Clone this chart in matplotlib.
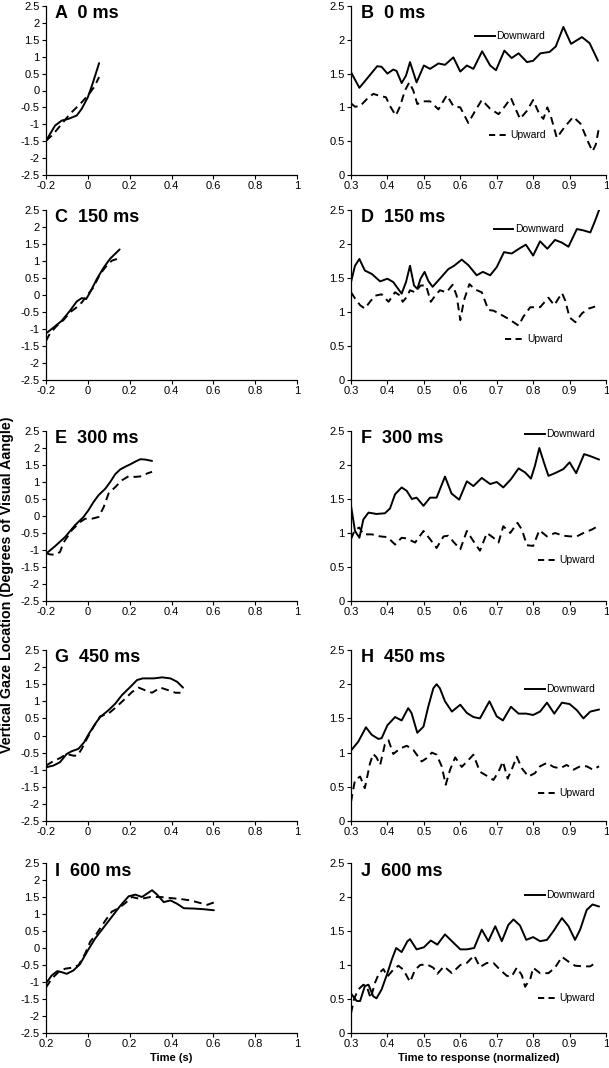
import matplotlib
matplotlib.use("Agg")
import matplotlib.pyplot as plt

plt.rcParams['font.family'] = ['Liberation Sans', 'DejaVu Sans']

# ---------------- data ----------------
# Left panels (time in s)
A_down_x = [-0.2, -0.157, -0.125, -0.093, -0.053, -0.029, 0.0, 0.02, 0.054]
A_down_y = [-1.49, -1.04, -0.89, -0.84, -0.74, -0.54, -0.2, 0.15, 0.81]
A_up_x = [-0.2, -0.165, -0.125, -0.085, -0.037, 0.0, 0.03, 0.054]
A_up_y = [-1.49, -1.29, -0.99, -0.69, -0.40, -0.15, 0.1, 0.40]

C_down_x = [-0.2, -0.165, -0.125, -0.085, -0.053, -0.029, -0.008, 0.011, 0.043, 0.075, 0.107, 0.152]
C_down_y = [-1.13, -0.96, -0.76, -0.46, -0.19, -0.09, -0.12, 0.08, 0.47, 0.80, 1.07, 1.34]
C_up_x = [-0.2, -0.181, -0.149, -0.117, -0.085, -0.053, -0.029, -0.008, 0.027, 0.059, 0.091, 0.115, 0.139]
C_up_y = [-1.35, -1.13, -0.91, -0.74, -0.51, -0.36, -0.22, -0.05, 0.23, 0.62, 0.87, 1.01, 1.06]

E_down_x = [-0.2, -0.157, -0.109, -0.061, -0.021, 0.003, 0.027, 0.051, 0.083, 0.107, 0.131,
            0.155, 0.179, 0.203, 0.227, 0.251, 0.275, 0.307]
E_down_y = [-1.11, -0.89, -0.62, -0.27, -0.03, 0.17, 0.41, 0.61, 0.80, 1.00, 1.23,
            1.37, 1.45, 1.52, 1.60, 1.67, 1.66, 1.62]
E_up_x = [-0.2, -0.181, -0.157, -0.133, -0.117, -0.077, -0.037, -0.013, 0.019, 0.051, 0.075,
          0.099, 0.131, 0.163, 0.195, 0.227, 0.259, 0.283, 0.307]
E_up_y = [-1.09, -1.13, -1.14, -1.06, -0.79, -0.42, -0.18, -0.08, -0.08, -0.03, 0.25,
          0.66, 0.85, 1.05, 1.17, 1.15, 1.17, 1.25, 1.30]

G_down_x = [-0.2, -0.165, -0.133, -0.101, -0.077, -0.045, -0.018, 0.003, 0.035, 0.059, 0.099,
            0.131, 0.163, 0.203, 0.235, 0.262, 0.315, 0.355, 0.395, 0.427, 0.455]
G_down_y = [-0.93, -0.88, -0.78, -0.54, -0.46, -0.39, -0.20, 0.03, 0.34, 0.54, 0.74,
            0.93, 1.18, 1.42, 1.62, 1.67, 1.67, 1.70, 1.67, 1.57, 1.40]
G_up_x = [-0.2, -0.165, -0.133, -0.101, -0.069, -0.05, -0.029, -0.005, 0.027, 0.059, 0.099,
          0.139, 0.179, 0.211, 0.243, 0.275, 0.307, 0.347, 0.387, 0.419, 0.443]
G_up_y = [-0.88, -0.75, -0.66, -0.54, -0.59, -0.59, -0.39, -0.10, 0.25, 0.56, 0.64,
          0.85, 1.08, 1.27, 1.40, 1.32, 1.25, 1.40, 1.32, 1.25, 1.25]

I_down_x = [-0.2, -0.173, -0.146, -0.125, -0.101, -0.069, -0.037, 0.0, 0.035, 0.075, 0.115,
            0.155, 0.195, 0.227, 0.259, 0.283, 0.307, 0.331, 0.363, 0.395, 0.427, 0.459,
            0.507, 0.555, 0.603]
I_down_y = [-1.04, -0.81, -0.68, -0.71, -0.76, -0.66, -0.47, -0.07, 0.28, 0.60, 0.92,
            1.24, 1.52, 1.57, 1.50, 1.60, 1.70, 1.57, 1.35, 1.40, 1.30, 1.17,
            1.16, 1.14, 1.11]
I_up_x = [-0.2, -0.173, -0.141, -0.109, -0.077, -0.045, -0.013, 0.011, 0.043, 0.083, 0.115,
          0.147, 0.179, 0.211, 0.251, 0.299, 0.347, 0.395, 0.443, 0.491, 0.539, 0.571, 0.603]
I_up_y = [-1.16, -0.91, -0.71, -0.61, -0.58, -0.51, -0.17, 0.18, 0.43, 0.80, 1.07,
          1.17, 1.32, 1.50, 1.44, 1.50, 1.50, 1.47, 1.44, 1.40, 1.32, 1.27, 1.34]

# Right panels (normalized time to response)
B_down_x = [0.3, 0.323, 0.343, 0.372, 0.384, 0.40, 0.416, 0.425, 0.439, 0.451, 0.462, 0.471,
            0.48, 0.50, 0.517, 0.54, 0.558, 0.581, 0.60, 0.618, 0.636, 0.66, 0.682, 0.698,
            0.721, 0.741, 0.76, 0.783, 0.80, 0.82, 0.845, 0.862, 0.883, 0.904, 0.934, 0.955, 0.978]
B_down_y = [1.52, 1.29, 1.42, 1.61, 1.60, 1.50, 1.56, 1.54, 1.36, 1.47, 1.67, 1.52,
            1.37, 1.62, 1.57, 1.65, 1.63, 1.74, 1.53, 1.62, 1.57, 1.83, 1.62, 1.55,
            1.84, 1.73, 1.80, 1.67, 1.69, 1.80, 1.82, 1.90, 2.19, 1.94, 2.04, 1.95, 1.69]
B_up_x = [0.3, 0.311, 0.325, 0.343, 0.361, 0.38, 0.396, 0.407, 0.423, 0.435, 0.448, 0.46,
          0.471, 0.482, 0.499, 0.517, 0.54, 0.563, 0.581, 0.60, 0.622, 0.641, 0.659, 0.682,
          0.705, 0.723, 0.739, 0.75, 0.764, 0.783, 0.80, 0.817, 0.828, 0.839, 0.848, 0.865,
          0.885, 0.91, 0.93, 0.95, 0.963, 0.972, 0.981]
B_up_y = [1.06, 1.01, 1.02, 1.12, 1.20, 1.17, 1.15, 1.02, 0.88, 1.02, 1.25, 1.37,
          1.25, 1.05, 1.09, 1.09, 0.97, 1.18, 1.02, 1.00, 0.77, 0.95, 1.11, 0.98,
          0.90, 1.02, 1.14, 1.00, 0.83, 0.95, 1.11, 0.90, 0.83, 1.00, 0.88, 0.55,
          0.70, 0.86, 0.76, 0.50, 0.35, 0.45, 0.71]

D_down_x = [0.3, 0.311, 0.323, 0.338, 0.357, 0.38, 0.40, 0.416, 0.439, 0.451, 0.462, 0.473,
            0.482, 0.491, 0.502, 0.512, 0.524, 0.544, 0.567, 0.583, 0.604, 0.622, 0.645,
            0.662, 0.682, 0.70, 0.72, 0.741, 0.764, 0.78, 0.80, 0.819, 0.839, 0.86, 0.879,
            0.897, 0.92, 0.938, 0.957, 0.97, 0.981]
D_down_y = [1.44, 1.68, 1.78, 1.61, 1.56, 1.45, 1.49, 1.44, 1.27, 1.44, 1.68, 1.39,
            1.34, 1.49, 1.59, 1.46, 1.37, 1.49, 1.63, 1.68, 1.77, 1.69, 1.54,
            1.59, 1.54, 1.66, 1.88, 1.86, 1.94, 1.99, 1.83, 2.04, 1.93, 2.06, 2.02,
            1.96, 2.22, 2.20, 2.17, 2.34, 2.50]
D_up_x = [0.3, 0.311, 0.325, 0.338, 0.352, 0.366, 0.384, 0.403, 0.421, 0.435, 0.442, 0.453,
          0.462, 0.476, 0.491, 0.506, 0.519, 0.531, 0.544, 0.562, 0.579, 0.59, 0.60, 0.61,
          0.625, 0.641, 0.659, 0.677, 0.691, 0.709, 0.732, 0.76, 0.773, 0.792, 0.819,
          0.842, 0.858, 0.879, 0.888, 0.90, 0.916, 0.934, 0.952, 0.97]
D_up_y = [1.29, 1.20, 1.10, 1.05, 1.15, 1.24, 1.26, 1.15, 1.29, 1.24, 1.15, 1.22,
          1.32, 1.29, 1.39, 1.39, 1.15, 1.24, 1.32, 1.29, 1.40, 1.24, 0.88, 1.17,
          1.41, 1.33, 1.29, 1.03, 1.02, 0.97, 0.90, 0.80, 0.93, 1.07, 1.07,
          1.21, 1.10, 1.28, 1.17, 0.92, 0.85, 0.98, 1.05, 1.08]

F_down_x = [0.3, 0.311, 0.323, 0.334, 0.348, 0.37, 0.393, 0.407, 0.421, 0.439, 0.453, 0.467,
            0.48, 0.499, 0.517, 0.535, 0.558, 0.576, 0.597, 0.618, 0.636, 0.659, 0.682,
            0.70, 0.718, 0.739, 0.76, 0.778, 0.794, 0.805, 0.817, 0.83, 0.842, 0.86,
            0.883, 0.90, 0.918, 0.94, 0.957, 0.981]
F_down_y = [1.40, 1.03, 0.93, 1.20, 1.30, 1.28, 1.29, 1.36, 1.57, 1.67, 1.62, 1.50,
            1.52, 1.40, 1.52, 1.52, 1.83, 1.58, 1.49, 1.76, 1.69, 1.81, 1.72,
            1.75, 1.67, 1.79, 1.95, 1.89, 1.80, 1.99, 2.25, 2.03, 1.84, 1.88,
            1.94, 2.04, 1.88, 2.16, 2.13, 2.08]
F_up_x = [0.3, 0.311, 0.323, 0.334, 0.357, 0.38, 0.40, 0.421, 0.439, 0.453, 0.476, 0.499,
          0.517, 0.535, 0.554, 0.567, 0.583, 0.60, 0.618, 0.636, 0.654, 0.673, 0.691,
          0.705, 0.718, 0.737, 0.757, 0.769, 0.783, 0.80, 0.817, 0.838, 0.86, 0.883,
          0.902, 0.92, 0.938, 0.961, 0.981]
F_up_y = [0.91, 1.05, 1.08, 0.98, 0.98, 0.95, 0.94, 0.83, 0.93, 0.92, 0.86, 1.03,
          0.91, 0.78, 0.95, 0.96, 0.86, 0.76, 1.03, 0.88, 0.74, 1.00, 0.93,
          0.86, 1.10, 1.00, 1.15, 1.05, 0.82, 0.81, 1.04, 0.95, 1.00, 0.96,
          0.95, 0.95, 1.00, 1.05, 1.11]

H_down_x = [0.3, 0.32, 0.341, 0.357, 0.375, 0.384, 0.40, 0.421, 0.439, 0.457, 0.466, 0.482,
            0.499, 0.512, 0.526, 0.535, 0.544, 0.558, 0.577, 0.60, 0.618, 0.636, 0.654,
            0.68, 0.70, 0.717, 0.739, 0.76, 0.781, 0.80, 0.819, 0.838, 0.858, 0.879,
            0.90, 0.92, 0.938, 0.957, 0.981]
H_down_y = [1.03, 1.16, 1.37, 1.26, 1.20, 1.21, 1.40, 1.52, 1.47, 1.65, 1.58, 1.29,
            1.38, 1.67, 1.94, 2.00, 1.94, 1.75, 1.60, 1.70, 1.58, 1.52, 1.50,
            1.75, 1.53, 1.47, 1.67, 1.57, 1.57, 1.55, 1.60, 1.73, 1.57, 1.73,
            1.71, 1.62, 1.50, 1.60, 1.63]
H_up_x = [0.3, 0.311, 0.325, 0.338, 0.352, 0.361, 0.37, 0.38, 0.393, 0.403, 0.416, 0.435,
          0.453, 0.471, 0.494, 0.508, 0.522, 0.535, 0.549, 0.56, 0.572, 0.586, 0.604,
          0.622, 0.636, 0.654, 0.673, 0.691, 0.705, 0.717, 0.73, 0.741, 0.755, 0.769,
          0.787, 0.805, 0.819, 0.838, 0.856, 0.874, 0.892, 0.911, 0.929, 0.947, 0.964, 0.981]
H_up_y = [0.28, 0.60, 0.65, 0.48, 0.84, 0.98, 0.93, 0.82, 1.12, 1.18, 0.98, 1.06,
          1.10, 1.04, 0.87, 0.92, 1.00, 0.97, 0.80, 0.53, 0.75, 0.93, 0.79,
          0.89, 0.97, 0.72, 0.66, 0.60, 0.72, 0.87, 0.62, 0.75, 0.94, 0.77,
          0.65, 0.70, 0.80, 0.85, 0.79, 0.77, 0.82, 0.75, 0.80, 0.80, 0.75, 0.80]

J_down_x = [0.3, 0.316, 0.325, 0.338, 0.348, 0.361, 0.37, 0.384, 0.40, 0.412, 0.424, 0.439,
            0.455, 0.462, 0.48, 0.50, 0.519, 0.537, 0.558, 0.577, 0.60, 0.618, 0.638,
            0.659, 0.677, 0.696, 0.714, 0.732, 0.746, 0.764, 0.781, 0.80, 0.819, 0.838,
            0.856, 0.879, 0.897, 0.915, 0.929, 0.947, 0.963, 0.981]
J_down_y = [0.58, 0.47, 0.47, 0.69, 0.71, 0.54, 0.51, 0.64, 0.88, 1.08, 1.25, 1.19,
            1.35, 1.38, 1.23, 1.26, 1.36, 1.30, 1.45, 1.35, 1.23, 1.23, 1.25,
            1.52, 1.35, 1.57, 1.35, 1.59, 1.67, 1.58, 1.37, 1.41, 1.35, 1.37,
            1.50, 1.69, 1.57, 1.37, 1.52, 1.81, 1.89, 1.86]
J_up_x = [0.3, 0.309, 0.32, 0.334, 0.343, 0.354, 0.366, 0.377, 0.389, 0.40, 0.416, 0.43,
          0.444, 0.462, 0.476, 0.49, 0.508, 0.526, 0.537, 0.555, 0.577, 0.60, 0.618,
          0.638, 0.654, 0.673, 0.691, 0.709, 0.728, 0.741, 0.755, 0.769, 0.778, 0.793,
          0.80, 0.819, 0.842, 0.86, 0.879, 0.897, 0.915, 0.938, 0.957, 0.97]
J_up_y = [0.29, 0.51, 0.64, 0.71, 0.69, 0.51, 0.74, 0.88, 0.94, 0.83, 0.93, 0.99,
          0.93, 0.75, 0.93, 1.00, 1.01, 0.96, 0.87, 0.98, 0.88, 1.00, 1.03,
          1.14, 0.97, 1.03, 1.03, 0.93, 0.84, 0.83, 0.96, 0.85, 0.68, 0.81,
          0.96, 0.88, 0.88, 0.96, 1.12, 1.05, 0.99, 0.98, 0.98, 1.03]

left_titles = ["A  0 ms", "C  150 ms", "E  300 ms", "G  450 ms", "I  600 ms"]
right_titles = ["B  0 ms", "D  150 ms", "F  300 ms", "H  450 ms", "J  600 ms"]
left_xticks = [-0.2, 0, 0.2, 0.4, 0.6, 0.8, 1]
left_xticklabels = ["-0.2", "0", "0.2", "0.4", "0.6", "0.8", "1"]
left_xticklabels_last = ["0.2", "0", "0.2", "0.4", "0.6", "0.8", "1"]
left_yticks = [-2.5, -2, -1.5, -1, -0.5, 0, 0.5, 1, 1.5, 2, 2.5]
right_xticks = [0.3, 0.4, 0.5, 0.6, 0.7, 0.8, 0.9, 1]
right_yticks = [0, 0.5, 1, 1.5, 2, 2.5]

left_data = [(A_down_x, A_down_y, A_up_x, A_up_y), (C_down_x, C_down_y, C_up_x, C_up_y),
             (E_down_x, E_down_y, E_up_x, E_up_y), (G_down_x, G_down_y, G_up_x, G_up_y),
             (I_down_x, I_down_y, I_up_x, I_up_y)]
right_data = [(B_down_x, B_down_y, B_up_x, B_up_y), (D_down_x, D_down_y, D_up_x, D_up_y),
              (F_down_x, F_down_y, F_up_x, F_up_y), (H_down_x, H_down_y, H_up_x, H_up_y),
              (J_down_x, J_down_y, J_up_x, J_up_y)]

# legend key positions in axes fractions: (down_x0, down_y, up_x0, up_y)
legend_pos = [(0.487, 0.82, 0.54, 0.235), (0.559, 0.89, 0.605, 0.244),
              (0.683, 0.985, 0.732, 0.24), (0.683, 0.77, 0.732, 0.166),
              (0.683, 0.81, 0.732, 0.206)]

# ---------------- layout ----------------
W, H = 609, 1068
fig = plt.figure(figsize=(W / 100, H / 100), dpi=100)
rows_px = [(6, 175), (210, 380), (431, 601), (650, 821), (863, 1033)]
LX0, LX1 = 46, 297
RX0, RX1 = 351, 606

def fmt(v):
    return "%g" % v

def style(ax):
    for s in ["top", "right"]:
        ax.spines[s].set_visible(False)
    for s in ["left", "bottom"]:
        ax.spines[s].set_linewidth(0.9)
        ax.spines[s].set_color("black")
    ax.tick_params(direction="out", length=3, width=0.8, labelsize=8, pad=1.5, colors="black")

lw = 1.4
dash = (4, 2.6)

for i, (top, bot) in enumerate(rows_px):
    b = 1 - bot / H
    h = (bot - top) / H
    # left panel
    ax = fig.add_axes([LX0 / W, b, (LX1 - LX0) / W, h])
    dx, dy, ux, uy = left_data[i]
    ax.plot(dx, dy, color="black", lw=lw, solid_joinstyle="round", solid_capstyle="round")
    ax.plot(ux, uy, color="black", lw=lw, linestyle=(0, dash))
    ax.set_xlim(-0.2, 1)
    ax.set_ylim(-2.5, 2.5)
    ax.set_xticks(left_xticks)
    ax.set_xticklabels(left_xticklabels_last if i == 4 else left_xticklabels)
    ax.set_yticks(left_yticks)
    ax.set_yticklabels([fmt(v) for v in left_yticks])
    style(ax)
    ax.text(9 / (LX1 - LX0), 1 - 8 / (bot - top), left_titles[i], transform=ax.transAxes,
            fontsize=13, fontweight="bold", va="center", ha="left")
    if i == 4:
        ax.set_xlabel("Time (s)", fontsize=8, fontweight="bold", labelpad=3)

    # right panel
    ax = fig.add_axes([RX0 / W, b, (RX1 - RX0) / W, h])
    dx, dy, ux, uy = right_data[i]
    ax.plot(dx, dy, color="black", lw=lw, solid_joinstyle="round", solid_capstyle="round")
    ax.plot(ux, uy, color="black", lw=lw, linestyle=(0, dash))
    ax.set_xlim(0.3, 1)
    ax.set_ylim(0, 2.5)
    ax.set_xticks(right_xticks)
    ax.set_xticklabels([fmt(v) for v in right_xticks])
    ax.set_yticks(right_yticks)
    ax.set_yticklabels([fmt(v) for v in right_yticks])
    style(ax)
    ax.text(10 / (RX1 - RX0), 1 - 8 / (bot - top), right_titles[i], transform=ax.transAxes,
            fontsize=13, fontweight="bold", va="center", ha="left")
    dx0, dyk, ux0, uyk = legend_pos[i]
    klen = 0.078
    ax.plot([dx0, dx0 + klen], [dyk, dyk], transform=ax.transAxes, color="black", lw=lw,
            clip_on=False)
    ax.text(dx0 + klen + 0.005, dyk, "Downward", transform=ax.transAxes, fontsize=7.5,
            va="center", ha="left")
    ax.plot([ux0, ux0 + klen], [uyk, uyk], transform=ax.transAxes, color="black", lw=lw,
            linestyle=(0, (3.2, 2.2)), clip_on=False)
    ax.text(ux0 + klen + 0.008, uyk, "Upward", transform=ax.transAxes, fontsize=7.5,
            va="center", ha="left")
    if i == 4:
        ax.set_xlabel("Time to response (normalized)", fontsize=8, fontweight="bold", labelpad=3)

fig.text(7 / W, 1 - 585 / H, "Vertical Gaze Location (Degrees of Visual Aangle)",
         rotation=90, fontsize=10.3, fontweight="bold", va="center", ha="center")

fig.savefig("out.png", dpi=100)
